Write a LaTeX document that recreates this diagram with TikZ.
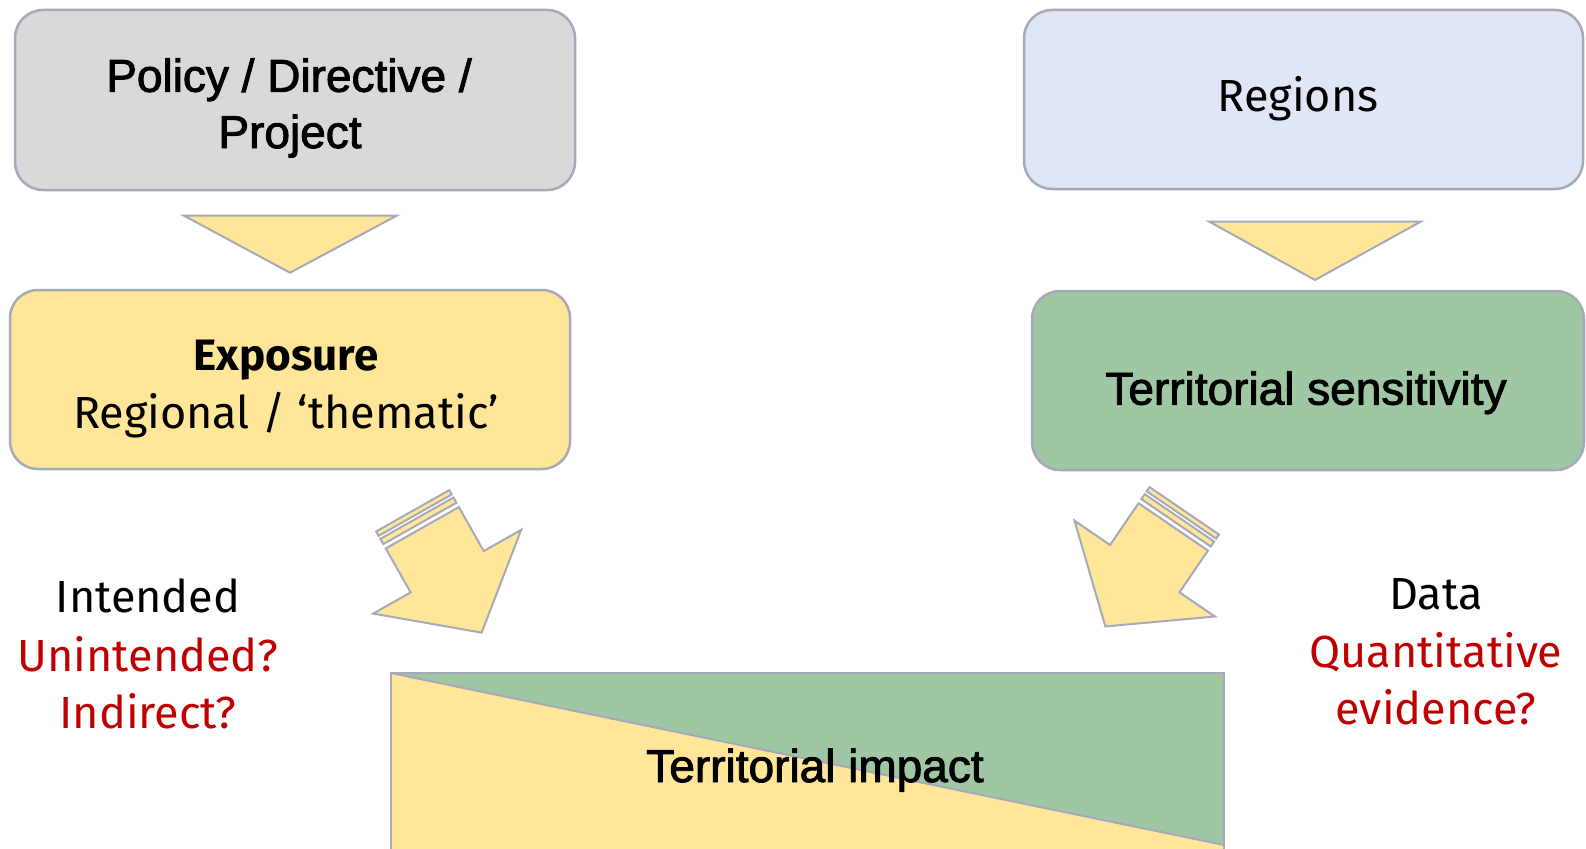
\documentclass[tikz,border=0pt]{standalone}
\usepackage{fontspec}
\setmainfont{Liberation Sans}
\newfontfamily\arialheavy[FakeBold=2]{Liberation Sans}
\newfontfamily\bahn{Fira Sans}
\definecolor{boxgray}{HTML}{D9D9D9}
\definecolor{boxyellow}{HTML}{FFE699}
\definecolor{boxblue}{HTML}{E0E6F6}
\definecolor{boxgreen}{HTML}{A0C7A4}
\definecolor{edgegray}{HTML}{A6A9B9}
\definecolor{darkred}{HTML}{C00000}
\tikzset{
  roundbox/.style={draw=edgegray, line width=2.5pt, rounded corners=28pt, inner sep=0pt},
  arialtext/.style={font=\arialheavy\fontsize{46}{55}\selectfont, inner sep=0pt, anchor=base},
  bahntext/.style={font=\bahn\fontsize{45}{54}\selectfont, inner sep=0pt, anchor=base},
  shapeline/.style={draw=edgegray, line width=2pt, fill=boxyellow, line join=miter},
  stripedarrow/.pic={
    \draw[shapeline] (0,-42) rectangle (5,42);
    \draw[shapeline] (8.5,-42) rectangle (14.5,42);
    \draw[shapeline] (19.5,-42) -- (70,-42) -- (70,-85) -- (140,0) -- (70,85) -- (70,42) -- (19.5,42) -- cycle;
  }
}
\begin{document}
\begin{tikzpicture}[x=1pt,y=-1pt]
\useasboundingbox (0,0) rectangle (1586,848);

% boxes
\node[roundbox, fill=boxgray, minimum width=560pt, minimum height=180pt] (policy) at (295,100) {};
\node[roundbox, fill=boxyellow, minimum width=560pt, minimum height=179pt] (exposure) at (290,379.5) {};
\node[roundbox, fill=boxblue, minimum width=559pt, minimum height=179pt] (regions) at (1303.5,99.5) {};
\node[roundbox, fill=boxgreen, minimum width=552pt, minimum height=179pt] (sensitivity) at (1308,380.5) {};

% triangles
\draw[shapeline] (184,215.7) -- (396.7,215.7) -- (290,272.7) -- cycle;
\draw[shapeline] (1209,221.5) -- (1421,221.5) -- (1315,280) -- cycle;

% striped arrows
\pic[rotate=-60.5] at (412.7,510.8) {stripedarrow};
\pic[rotate=-124.3] at (1184.2,510.8) {stripedarrow};

% territorial impact box
\path (391,673) coordinate (imTL) (1224,673) coordinate (imTR)
      (1224,845) coordinate (imDiag) (391,856) coordinate (imBL) (1224,856) coordinate (imBR);
\fill[boxyellow] (imTL) -- (imTR) -- (imBR) -- (imBL) -- cycle;
\fill[boxgreen] (imTL) -- (imTR) -- (imDiag) -- cycle;
\draw[edgegray, line width=2pt] (imTL) -- (imDiag);
\draw[edgegray, line width=2.5pt] (imBL) -- (imTL) -- (imTR) -- (imBR);

% texts
\node[arialtext] (t1) at (289,91.7) {Policy / Directive /};
\node[arialtext] (t2) at (290,148) {Project};
\node[bahntext] (t3) at (1298,111) {Regions};
\node[bahntext, font=\bahn\bfseries\fontsize{44}{52}\selectfont] (t4) at (286,370) {Exposure};
\node[bahntext] (t5) at (286,428) {Regional / ‘thematic’};
\node[arialtext] (t6) at (1306,404.6) {Territorial sensitivity};
\node[arialtext] (t7) at (815,782) {Territorial impact};
\node[bahntext] (t8) at (148,612) {Intended};
\node[bahntext, text=darkred] (t9) at (148,671) {Unintended?};
\node[bahntext, text=darkred] (t10) at (148,728) {Indirect?};
\node[bahntext] (t11) at (1436,609) {Data};
\node[bahntext, text=darkred] (t12) at (1436,667) {Quantitative};
\node[bahntext, text=darkred] (t13) at (1436,724) {evidence?};
\end{tikzpicture}
\end{document}
